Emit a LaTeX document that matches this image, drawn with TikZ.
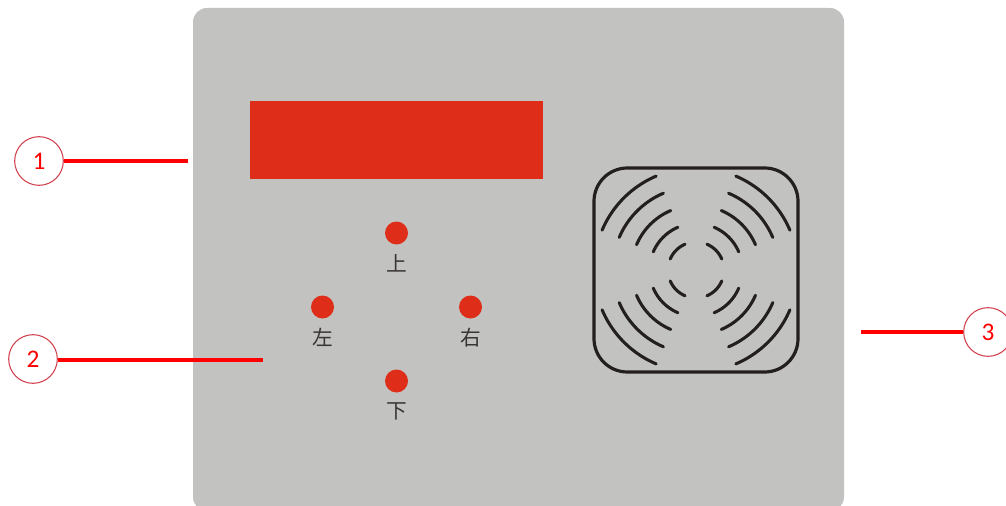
\documentclass[tikz,border=0pt]{standalone}
\usepackage{fontspec}
\setmainfont{Carlito}
\newfontfamily\cjk{Noto Sans CJK SC}
\definecolor{panelgray}{HTML}{C2C2C0}
\definecolor{dispred}{HTML}{DE2D18}
\definecolor{ringred}{HTML}{D0404F}
\definecolor{darkline}{HTML}{231F1E}
\tikzset{
  px/.style={x=0.75pt,y=-0.75pt},
  led/.style={circle,fill=dispred,draw=none,minimum size=17.25pt,inner sep=0pt},
  ledtext/.style={font=\cjk\fontsize{15.5}{15.5}\selectfont,text=darkline!90,inner sep=0pt},
  callout/.style={circle,draw=ringred,line width=0.8pt,fill=white,minimum size=36.5pt,inner sep=0pt,text=red,font=\fontsize{19}{19}\selectfont},
  leader/.style={draw=red,line width=2.4pt},
  wave/.style={draw=darkline,line width=2.3pt,line cap=round},
}
\begin{document}
\begin{tikzpicture}[px]
\useasboundingbox (0,0) rectangle (1006,506);
\begin{scope}
\clip (0,0) rectangle (1006,506);
\fill[white] (0,0) rectangle (1006,506);
\fill[panelgray,rounded corners=10.5pt] (193,8) rectangle (844,511);
\fill[dispred] (250,101) rectangle (543,179);
\node[led] (up) at (396.5,233) {};
\node[led] (lf) at (322.5,307) {};
\node[led] (rt) at (470.5,307) {};
\node[led] (dn) at (396.5,381) {};
\node[ledtext] (tup) at (396.5,263.5) {上};
\node[ledtext] (tlf) at (322.5,337.5) {左};
\node[ledtext] (trt) at (470.5,338) {右};
\node[ledtext] (tdn) at (396.5,411.5) {下};
\draw[darkline,line width=2.4pt,rounded corners=25pt] (594,168) rectangle (798,372);
\foreach \r in {28,46.4,64.6,83.4,102}{
  \foreach \a in {45,135,225,315}{
    \draw[wave] plot[domain=\a-22:\a+22,samples=24,smooth] ({696+\r*cos(\x)},{270+\r*sin(\x)});
  }
}
\node[callout] (c1) at (39,161) {1};
\node[callout] (c2) at (33,359) {2};
\node[callout] (c3) at (988,332) {3};
\coordinate (e1) at (188,161);
\coordinate (e2) at (263,360);
\coordinate (e3) at (861,332);
\draw[leader] (c1.east) -- (e1);
\draw[leader] (c2.east |- e2) -- (e2);
\draw[leader] (c3.west) -- (e3);
\end{scope}
\end{tikzpicture}
\end{document}
